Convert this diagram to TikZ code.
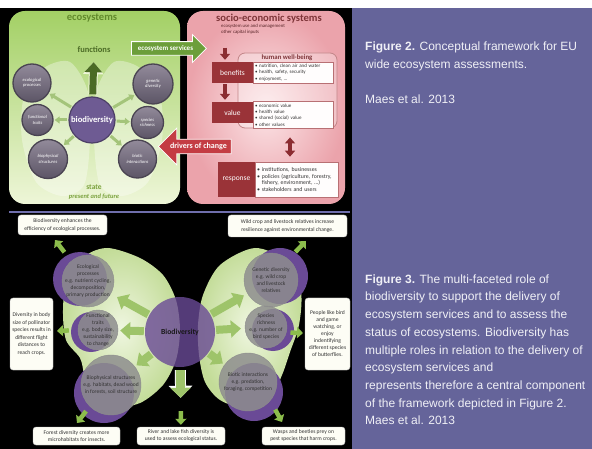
\documentclass[tikz,border=0pt]{standalone}
\usepackage{fontspec}
\setmainfont{Carlito}
\newfontfamily\capfont{Liberation Sans}
\usetikzlibrary{shapes.arrows,arrows.meta}

\definecolor{panel}{HTML}{65649A}
\definecolor{captext}{HTML}{F0F0F6}
\definecolor{sepline}{HTML}{6F6EAC}
\definecolor{ecotop}{HTML}{A3D065}
\definecolor{ecobot}{HTML}{EEF6D8}
\definecolor{ecotext}{HTML}{628A2C}
\definecolor{fungreen}{HTML}{4B6B25}
\definecolor{statetext}{HTML}{7BA23E}
\definecolor{pinkin}{HTML}{FCE6E8}
\definecolor{pinkout}{HTML}{EBA3AB}
\definecolor{socitext}{HTML}{7E3539}
\definecolor{boxred}{HTML}{9A3338}
\definecolor{arrowred}{HTML}{8B2C31}
\definecolor{drivred}{HTML}{C43C43}
\definecolor{servgreen}{HTML}{6C9E3A}
\definecolor{smallgreen}{HTML}{A4C47A}
\definecolor{biopurple}{HTML}{6E5B93}
\definecolor{greytop}{HTML}{928A9A}
\definecolor{greybot}{HTML}{5C5566}
\definecolor{wingpale}{HTML}{EFF6E0}
\definecolor{winggreen}{HTML}{C3DC98}
\definecolor{circpurple}{HTML}{6A4A96}
\definecolor{circgrey}{HTML}{8E8E8E}
\definecolor{darktext}{HTML}{333333}
\definecolor{boxfill}{HTML}{FDFDF5}
\definecolor{fatgreen}{HTML}{9EC46A}
\definecolor{tipgreen}{HTML}{8CBD4C}

\tikzset{
  sub2/.style={inner sep=0pt,font=\bfseries\fontsize{10.6}{12}\selectfont},
  bub2/.style={circle,inner sep=-4pt,draw=greybot!80!black,line width=1.3pt,
    top color=greytop,bottom color=greybot,text=white,align=center,
    font=\itshape\fontsize{4.6}{5.4}\selectfont},
  thin2/.style={-{Triangle[width=7pt,length=5pt]},line width=3pt,smallgreen,
    shorten <=1pt,shorten >=1pt},
  redbox/.style={fill=boxred,text=white,inner sep=0pt,font=\fontsize{7.5}{9}\selectfont},
  bulbox/.style={fill=white!92!pinkin,draw=boxred!70,line width=.6pt,inner sep=2pt,
    align=left,text=darktext,font=\fontsize{5}{6.3}\selectfont},
  redarrow/.style={-{Triangle[width=10pt,length=6pt]},line width=4.5pt,arrowred},
  blockarrow/.style={single arrow,draw=white,line width=.8pt,text=white,inner xsep=2pt,
    inner ysep=3.3pt,font=\bfseries\fontsize{7}{8}\selectfont},
  bub3/.style={circle,inner sep=-10pt,fill=circgrey,fill opacity=.85,text opacity=1,
    draw=black!45,line width=.4pt,text=darktext,align=center,
    font=\fontsize{5.5}{7}\selectfont},
  note3/.style={rounded corners=3pt,fill=boxfill,draw=black!25,line width=.4pt,
    inner sep=0pt,align=center,text=darktext,font=\fontsize{5.6}{7.6}\selectfont},
  fat3/.style={-{Triangle[width=17pt,length=10pt]},line width=8pt,fatgreen},
  tip3/.style={-{Triangle[width=11pt,length=6pt]},line width=4.5pt,tipgreen},
  capt/.style={anchor=north west,inner sep=0pt,align=left,text=captext,
    font=\capfont\fontsize{12}{17.7}\selectfont},
}

\begin{document}
\begin{tikzpicture}[x=1pt,y=-1pt]
\useasboundingbox (0,0) rectangle (592,449);
\fill[white] (0,0) rectangle (592,449);
\fill[black] (0,8) rectangle (352,449);
\fill[panel] (352,8) rectangle (592,449);

% --- Figure 2: conceptual framework ---
\shade[top color=ecotop,bottom color=ecobot,rounded corners=16pt] (9,11) rectangle (180,204);
\shade[inner color=pinkin,outer color=pinkout,rounded corners=16pt] (187,11) rectangle (345,204);
\draw[sepline,line width=2.5pt] (9,212) -- (350,212);

\fill[white,opacity=.35] plot[smooth cycle] coordinates {(70,62) (88,92) (90,140) (84,185) (62,196) (36,182) (22,140) (24,96) (44,68)};
\fill[white,opacity=.35] plot[smooth cycle] coordinates {(114,62) (96,92) (94,140) (100,185) (122,196) (148,182) (162,140) (160,96) (140,68)};

\node at (92,18) [sub2,text=ecotext] (ecos) {ecosystems};
\node at (94,50) [sub2,text=fungreen,font=\bfseries\fontsize{8.5}{10}\selectfont] (fnc) {functions};
\node at (92,120) [circle,minimum size=46pt,inner sep=0pt,fill=biopurple,draw=biopurple!70!black,line width=1.2pt,text=white,font=\bfseries\fontsize{8.6}{10}\selectfont] (bio2) {biodiversity};
\node at (32,83) [bub2,minimum size=38pt] (eco2) {ecological\\processes};
\node at (37.5,120) [bub2,minimum size=31pt] (fun2) {functional\\traits};
\node at (48,159) [bub2,minimum size=39pt] (phy2) {biophysical\\structures};
\node at (153,84) [bub2,minimum size=40pt] (gen2) {genetic\\diversity};
\node at (147.5,122.5) [bub2,minimum size=32pt] (spe2) {species\\richness};
\node at (137.5,159) [bub2,minimum size=38pt] (bint2) {biotic\\interactions};
\foreach \n in {eco2,fun2,phy2,gen2,spe2,bint2}
  \draw[thin2] (bio2) -- (\n);
\draw[-{Triangle[width=17pt,length=10pt]},line width=7pt,fungreen,shorten <=2pt,shorten >=9pt,
  preaction={draw=ecobot,line width=9pt,-{Triangle[width=20pt,length=12pt]}}] (bio2) -- (fnc);
\node at (94,187) [inner sep=0pt,text=statetext,font=\bfseries\fontsize{7.5}{9}\selectfont] (stt) {state};
\node at (94,197) [inner sep=0pt,text=statetext,font=\bfseries\itshape\fontsize{6.5}{8}\selectfont] (fut) {present and future};

\node at (269,19) [sub2,text=socitext] (soci) {socio-economic systems};
\node at (221,24) [anchor=north west,inner sep=0pt,align=left,text=socitext!70!black,font=\fontsize{4.8}{6}\selectfont] (inp) {ecosystem use and management\\other capital inputs};
\node at (287.5,90.5) [draw=boxred!60,line width=.8pt,rounded corners=7pt,fill=white,fill opacity=.3,minimum width=99pt,minimum height=75pt] (hwb) {};
\node at (287,58) [inner sep=0pt,text=socitext,font=\bfseries\fontsize{6.8}{8}\selectfont] (hwbl) {human well-being};
\node at (232.5,72.5) [redbox,minimum width=41pt,minimum height=21pt] (ben) {benefits};
\node at (293,72.5) [bulbox,minimum height=21pt,text width=76pt] (benb) {• nutrition, clean air and water\\• health, safety, security\\• enjoyment, …};
\node at (232.5,112.5) [redbox,minimum width=41pt,minimum height=21pt] (val) {value};
\node at (293,115) [bulbox,minimum height=26pt,text width=76pt] (valb) {• economic value\\• health value\\• shared (social) value\\• other values};
\node at (236.5,179.5) [redbox,minimum width=37pt,minimum height=35pt] (resp) {response};
\node at (296.5,179.5) [bulbox,minimum height=35pt,text width=79pt,font=\fontsize{5.8}{6.6}\selectfont] (respb) {• institutions, businesses\\• policies (agriculture, forestry,\\\phantom{• }fishery, environment, …)\\• stakeholders and users};
\draw[redarrow,shorten <=13pt,shorten >=2pt] ([xshift=4pt]inp.south west) -- ([xshift=4pt]inp.south west |- ben.north);
\draw[redarrow,shorten <=1pt,shorten >=2pt] ([xshift=-7.5pt]ben.south) -- ([xshift=-7.5pt]val.north);
\draw[redarrow,{Triangle[width=10pt,length=6pt]}-{Triangle[width=10pt,length=6pt]}] ([xshift=2.5pt,yshift=-9pt]hwb.south) -- ([xshift=-6.5pt,yshift=5pt]respb.north);

\node at (165.5,48.5) [blockarrow,fill=servgreen,minimum height=75pt,minimum width=28pt,single arrow head extend=7pt] (serv) {ecosystem services};
\node at (198.5,146.5) [blockarrow,fill=drivred,shape border rotate=180,minimum height=73pt,minimum width=37pt,single arrow head extend=11pt,font=\bfseries\fontsize{8}{9}\selectfont] (drv) {drivers of change};

% --- Figure 3: roles of biodiversity ---
\shade[inner color=wingpale,outer color=winggreen] plot[smooth cycle] coordinates {(108,248) (140,258) (163,275) (176,300) (180,330) (176,360) (163,385) (140,403) (110,408) (88,398) (84,375) (80,358) (66,340) (63,310) (67,280) (85,256)};
\shade[inner color=wingpale,outer color=winggreen] plot[smooth cycle] coordinates {(255,248) (288,262) (301,292) (299,325) (290,352) (282,375) (270,398) (245,408) (220,400) (205,382) (199,355) (198,325) (203,295) (220,265)};
\fill[circpurple] (80,279) circle[radius=27] (91,332) circle[radius=20] (104,393) circle[radius=30]
  (280,276) circle[radius=28] (273,330) circle[radius=21] (254,392) circle[radius=29];

\node at (88,281) [bub3,minimum size=52pt] (eco3) {Ecological\\processes\\e.g. nutrient cycling,\\decomposition,\\primary production};
\node at (98,330) [bub3,minimum size=40pt] (fun3) {Functional\\traits\\e.g. body size,\\sustainability\\to change};
\node at (111,385) [bub3,minimum size=60pt] (phy3) {Biophysical structures\\e.g. habitats, dead wood\\in forests, soil structure};
\node at (271,280) [bub3,minimum size=54pt] (gen3) {Genetic diversity\\e.g. wild crop\\and livestock\\relatives};
\node at (266,327) [bub3,minimum size=42pt] (spe3) {Species\\richness\\e.g. number of\\bird species};
\node at (248,382) [bub3,minimum size=58pt] (bint3) {Biotic interactions\\e.g. predation,\\foraging, competition};
\node at (180,332) [circle,minimum size=70pt,inner sep=0pt,fill=circpurple,fill opacity=.8,text opacity=1,text=black!90,font=\bfseries\fontsize{7.7}{9}\selectfont] (bio3) {Biodiversity};

\node at (62.5,225) [note3,minimum width=89pt,minimum height=20pt] (b1) {Biodiversity enhances the\\efficiency of ecological processes.};
\node at (287.5,226) [note3,minimum width=119pt,minimum height=22pt] (b2) {Wild crop and livestock relatives increase\\resilience against environmental change.};
\node at (31.5,334) [note3,minimum width=43pt,minimum height=72pt] (b3) {Diversity in body\\size of pollinator\\species results in\\different flight\\distances to\\reach crops.};
\node at (327.5,334) [note3,minimum width=45pt,minimum height=72pt,font=\fontsize{5.6}{7}\selectfont] (b4) {People like bird\\and game\\watching, or\\enjoy\\indentifying\\different species\\of butterflies.};
\node at (76.5,436) [note3,minimum width=87pt,minimum height=18pt,font=\fontsize{5.6}{7}\selectfont] (b5) {Forest diversity creates more\\microhabitats for insects.};
\node at (181,436) [note3,minimum width=88pt,minimum height=18pt,font=\fontsize{5.6}{7}\selectfont] (b6) {River and lake fish diversity is\\used to assess ecological status.};
\node at (303.5,436) [note3,minimum width=83pt,minimum height=18pt,font=\fontsize{5.6}{7}\selectfont] (b7) {Wasps and beetles prey on\\pest species that harm crops.};

\foreach \n/\s in {eco3/7pt,fun3/2pt,phy3/2pt,gen3/4pt,spe3/4pt,bint3/2pt}
  \draw[fat3,shorten <=1pt,shorten >=\s] (bio3) -- (\n);
\draw[-{Triangle[width=20pt,length=10pt]},line width=9pt,fatgreen,shorten <=3pt,shorten >=29pt,
  preaction={draw=white,line width=11pt,-{Triangle[width=23pt,length=12pt]}}] (bio3) -- (b6);
\draw[tip3,shorten <=44pt,shorten >=2pt] (bio3) -- (b6);

\coordinate (t1) at (55,240);
\coordinate (t2) at (57,331);
\coordinate (t3) at (77,423);
\coordinate (t4) at (306,241);
\coordinate (t5) at (303,333);
\coordinate (t6) at (282,422);
\draw[tip3,shorten <=11pt] (eco3.130) -- (t1);
\draw[tip3,shorten <=9pt] (fun3.180) -- (t2);
\draw[tip3,shorten <=6pt] (phy3.225) -- (t3);
\draw[tip3,shorten <=10pt] (gen3.50) -- (t4);
\draw[tip3,shorten <=4pt] (spe3.-15) -- (t5);
\draw[tip3,shorten <=10pt] (bint3.-40) -- (t6);

% captions
\node at (365,41.3) [capt,font=\capfont\fontsize{12}{18}\selectfont] (cap2) {\textbf{Figure 2.} Conceptual framework for EU\\wide ecosystem assessments.\\[17pt]Maes et al. 2013};
\node at (365,274.4) [capt] (cap3) {\textbf{Figure 3.} The multi-faceted role of\\biodiversity to support the delivery of\\ecosystem services and to assess the\\status of ecosystems. Biodiversity has\\multiple roles in relation to the delivery of\\ecosystem services and\\represents therefore a central component\\of the framework depicted in Figure 2.\\Maes et al. 2013};
\end{tikzpicture}
\end{document}
